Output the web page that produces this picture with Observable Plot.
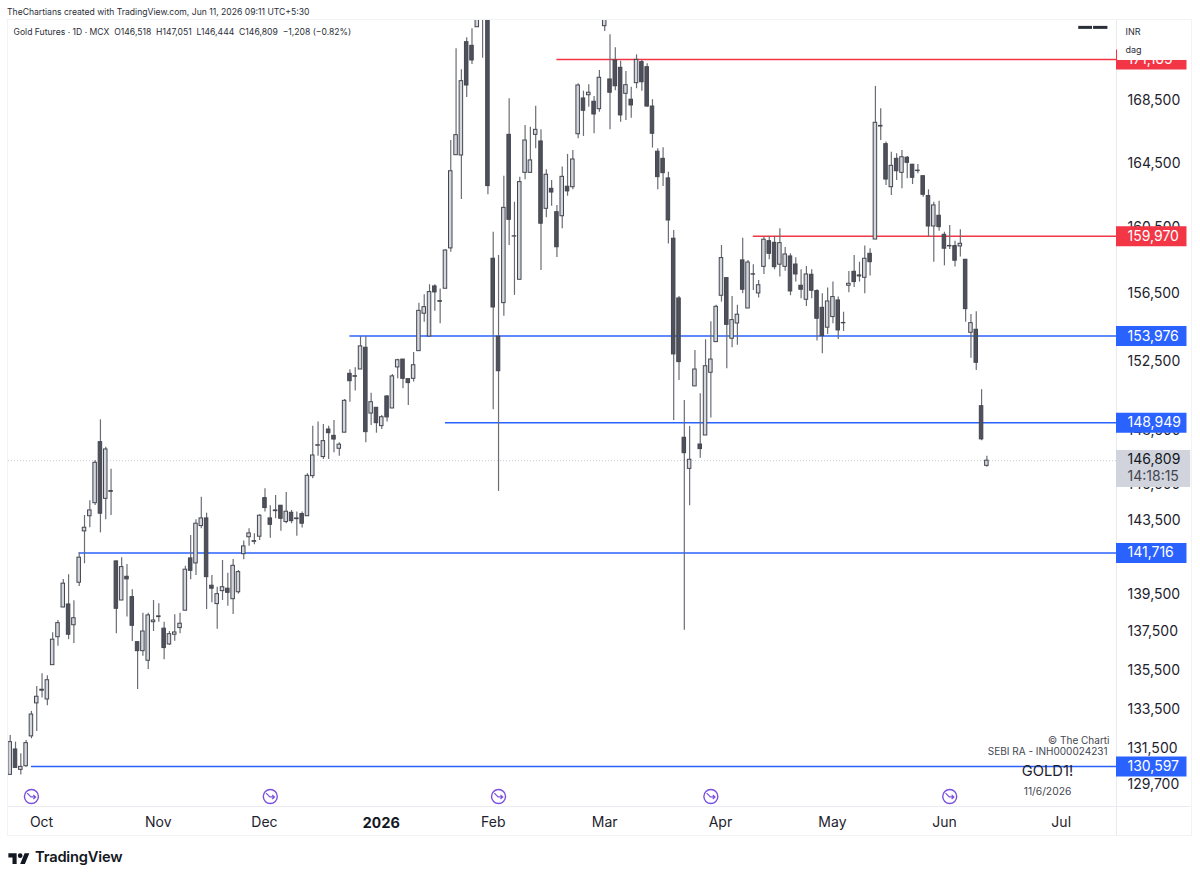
<!DOCTYPE html>
<html>
<head>
<meta charset="utf-8">
<script src="https://cdn.jsdelivr.net/npm/d3@7"></script>
<script src="https://cdn.jsdelivr.net/npm/@observablehq/plot@0.6"></script>
<style>
  html, body { margin: 0; padding: 0; background: #fff; font-family: Inter, "Noto Sans", sans-serif; color: #131722; }
  #page { position: relative; width: 1200px; height: 880px; overflow: hidden; }
  #credit { height: 19px; box-sizing: border-box; padding: 6px 0 0 7px; font-size: 8.6px; line-height: 12px; color: #2a2e39; white-space: nowrap; }
  #chart svg { display: block; background: transparent; }
  #border { position: absolute; left: 7px; top: 19px; width: 1185px; height: 817px; box-sizing: border-box; border: 1px solid #f2f3f5; pointer-events: none; }
  #logo { position: absolute; left: 8px; top: 848px; display: flex; align-items: center; gap: 5px; font-size: 14.7px; font-weight: 600; letter-spacing: -0.2px; color: #131722; }
</style>
</head>
<body>
<div id="page">
  <div id="credit">TheChartians created with TradingView.com, Jun 11, 2026 09:11 UTC+5:30</div>
  <div id="chart"></div>
  <div id="border"></div>
  <div id="logo"><svg width="22" height="13" viewBox="0 0 36 22"><path fill="#131722" d="M14 22H7V11H0V4h14v18zM28 22h-8l7.5-18h8L28 22z"/><circle fill="#131722" cx="20" cy="8" r="4"/></svg><span>TradingView</span></div>
</div>
<script>
const opens = [
130180,131450,130430,130610,132110,133790,134440,133990,135760,137220,
138790,138950,137850,140110,142890,143720,144440,147850,144680,145110,
141260,139160,140430,139340,136960,136490,135990,138010,138280,137670,
136840,137350,137700,138620,141420,141150,143180,143600,139950,138970,
139660,139790,139230,139600,141650,142570,142320,142600,144720,143600,
144040,144300,143400,143910,143600,143840,143720,145940,147650,147010,
148570,148210,147480,148390,151770,151630,152020,153290,149480,149810,
148760,150460,149770,152140,152600,151460,151480,153090,155300,153950,
156930,156050,156790,159230,165010,164990,172300,172060,173290,174200,
178000,158600,153940,155930,166300,159950,157330,163900,163900,166300,
165880,161660,162900,161450,161200,163030,163000,166340,168630,168840,
168420,167940,173360,169860,171100,170620,168930,168550,169620,170990,
170660,168110,165230,164780,163550,159820,156210,148100,146350,151040,
147720,148230,151830,153620,156370,157430,153820,154720,158500,155610,
157660,156510,158110,159670,159570,158240,158110,158740,158250,156970,
156130,157630,156650,155650,154470,155100,156090,154750,156970,157810,
157590,157450,158900,159770,166870,165710,163000,164780,163900,164850,
164410,164040,163690,162450,160570,161230,160060,159380,159370,159350,
158540,154170,154350,149900,146518];
const highs = [
132160,131820,131240,131900,133380,134660,135310,135210,137450,138100,
140290,140540,139150,141730,143760,144570,146820,149120,147570,146330,
141260,141460,141090,139730,136960,138490,138490,139160,138990,138010,
137520,138400,138490,141000,142670,143530,144770,143890,140500,139870,
141310,140620,141360,140770,142360,143030,142760,143800,145240,144300,
144870,144300,145030,144040,143950,143950,146080,148760,148990,148860,
148760,149080,147820,150290,152010,152120,153950,153950,150650,149810,
149370,150520,151730,152620,152600,151460,153010,155930,156430,157030,
157030,156770,159150,165940,171870,170490,172590,173190,175200,179500,
179000,160220,158800,163690,168610,162070,163630,166900,166790,168130,
166620,164090,163420,161870,164260,165060,165310,169580,169100,169520,
168760,170450,174100,172790,171930,171050,170380,169360,171470,171100,
170880,168550,165420,165480,163940,160330,156330,150230,148740,153130,
150620,153760,154820,155810,159410,157430,156330,155810,159850,158500,
158240,157290,159920,159960,159960,160430,159280,158900,158660,157930,
158130,157930,156730,156490,156830,157190,156290,155390,157830,158800,
158390,159370,159210,169410,167970,165840,165200,165100,165310,164930,
164410,164420,163690,162840,162070,162130,160220,160630,159670,160370,
158540,155260,155420,150850,147051];
const lows = [
130180,130500,130170,130560,131990,132360,134060,133670,135760,136740,
138780,137090,136890,139910,141130,143090,144310,142810,143530,143760,
137400,139160,138280,137000,134500,136230,135540,137520,138010,136040,
136790,137010,137400,138620,140270,140500,143030,138680,139040,137640,
139160,138860,138420,139500,141350,142080,142160,142390,143950,142520,
143580,142900,143310,143310,142630,143070,143720,145800,147060,146880,
146880,147250,147060,148390,150130,150770,152020,147820,148800,148360,
148570,148990,149770,151480,150900,149940,151290,153090,154800,153950,
155450,154700,156790,159000,165010,162240,168690,170840,173290,171250,
162530,149700,145090,155150,159410,156390,157330,163470,163900,165420,
157890,161110,161820,158680,160430,162440,162840,166050,166200,168070,
166370,167750,173010,166620,169130,167110,167220,167360,169260,169100,
168070,165460,162840,163050,159490,149080,151380,137580,144300,151040,
146950,148230,149220,153620,155990,152060,153290,153430,156490,155610,
156690,156230,157650,158540,157930,157490,157850,156370,157190,156190,
155730,156190,153680,152940,154070,154700,153780,154250,156550,156870,
157190,156490,157550,159770,165940,163110,162490,163420,162900,163530,
163170,163840,162380,159920,158390,160280,158170,159160,158100,158700,
154800,152680,151960,147930,146444];
const closes = [
131820,130530,130580,131770,133220,134130,134490,134980,137090,137960,
140060,137350,138220,141460,143090,144040,146690,143860,147440,145070,
138720,140950,140290,137820,136490,137520,138370,138100,138320,136650,
137380,137470,137930,140810,140750,143310,143600,140410,139790,139500,
139870,139570,141020,140680,142070,142780,142360,143750,144170,143250,
144000,143580,143970,143450,143560,143310,145960,147100,147680,147910,
148360,148000,147710,150210,151340,151600,153370,148420,150130,148930,
149270,149260,151620,152560,151480,151230,152270,155470,155690,156590,
156570,156010,159100,164000,166280,169750,169470,171100,174600,178500,
163070,155670,151920,161720,160980,159970,163320,165940,164680,166620,
160740,163780,162670,159300,163650,162740,164740,169470,167840,169000,
167600,169970,173900,169000,169420,167540,169490,168180,171140,169680,
168110,166370,163630,163880,160940,152900,152450,147230,146860,152020,
147460,152210,152600,155710,158640,154640,154920,155240,156730,158370,
157640,157000,159760,158900,158090,159550,158860,156630,157650,156730,
157650,156670,155000,153970,156030,156290,154310,154730,157090,157190,
157530,158600,158390,167070,166830,163480,164340,164000,164880,164530,
163590,164010,162530,160570,161870,160530,159210,159350,158480,159510,
155570,154740,152410,148010,146809];

// Horizontal levels: price, first bar, colour
const levelPrices = [171165, 159970, 153976, 148949, 141716, 130597];
const levelStarts = [103, 140, 64, 82, 13, 4];
const levelColors = ["#f23645", "#f23645", "#2962ff", "#2962ff", "#2962ff", "#2962ff"];

const priceTicks = [168500, 164500, 160500, 156500, 152500, 148500, 145500, 143500, 139500, 137500, 135500, 133500, 131500, 129700];
const monthBars = [5.9, 27.9, 47.9, 91, 112, 133.8, 154.9, 176, 198];
const monthNames = ["Oct", "Nov", "Dec", "Feb", "Mar", "Apr", "May", "Jun", "Jul"];
const yearBar = [69.9];
const rolloverBars = [4, 49, 92, 132, 177];

const lastPrice = 146809;
const countdown = "14:18:15";

const XMIN = -0.32, XMAX = 208.42;
const TAG_END = 221.7, GREY_END = 222.4;

const bars = opens.map((o, i) => ({i, o, h: highs[i], l: lows[i], c: closes[i]}));
const levels = levelPrices.map((p, k) => ({p, start: levelStarts[k], color: levelColors[k]}));
const fmt = d3.format(",");

const rolloverArrow = {
  draw(ctx, size) {
    const r = Math.sqrt(size / Math.PI);
    ctx.moveTo(-r, -r * 0.8);
    ctx.lineTo(-r * 0.1, r * 0.1);
    ctx.lineTo(r, r * 0.1);
    ctx.moveTo(r * 0.45, -r * 0.4);
    ctx.lineTo(r, r * 0.1);
    ctx.lineTo(r * 0.45, r * 0.6);
  }
};

const chart = Plot.plot({
  width: 1200, height: 821,
  marginTop: 0, marginBottom: 34, marginLeft: 8, marginRight: 84,
  style: {fontFamily: "Inter, 'Noto Sans', sans-serif", background: "transparent", color: "#131722"},
  x: {type: "linear", domain: [XMIN, XMAX]},
  y: {type: "log", domain: [128614, 173803]},
  marks: [
    Plot.ruleX([XMAX], {stroke: "#e9ebf0", strokeWidth: 1, y1: 127146, y2: 173803}),
    Plot.ruleY([128614], {x1: XMIN, x2: GREY_END, stroke: "#e9ebf0", strokeWidth: 1}),
    Plot.axisY({anchor: "right", ticks: priceTicks, tickSize: 0, tickPadding: 11, tickFormat: fmt, label: null, fontSize: 14, fontVariant: "normal", fill: "#1e222d"}),
    Plot.axisX({anchor: "bottom", ticks: monthBars, tickSize: 0, tickPadding: 11, label: null, fontSize: 14, fill: "#1e222d",
      tickFormat: d => monthNames[monthBars.indexOf(d)]}),
    Plot.axisX({anchor: "bottom", ticks: yearBar, tickSize: 0, tickPadding: 11, label: null, fontSize: 14.5, fontWeight: 700, fill: "#131722",
      tickFormat: () => "2026"}),

    // last price dotted line
    Plot.ruleY([lastPrice], {x1: XMIN, x2: XMAX, stroke: "#c9ccd4", strokeWidth: 1, strokeDasharray: "1,2"}),

    // levels
    Plot.ruleY(levels, {y: "p", x1: "start", x2: XMAX, stroke: "color", strokeWidth: 1.5}),

    // candles
    Plot.ruleX(bars, {x: "i", y1: "l", y2: "h", stroke: "#6b6d75", strokeWidth: 1.2, clip: "frame"}),
    Plot.rect(bars, {
      x1: d => d.i - 0.33, x2: d => d.i + 0.33, y1: "o", y2: "c",
      fill: d => d.c >= d.o ? "#d4d6dd" : "#4e505b",
      stroke: "#44464f",
      strokeWidth: 1, clip: "frame"
    }),

    // rollover markers
    Plot.dot(rolloverBars, {x: d => d, frameAnchor: "bottom", dy: -10, r: 7, fill: "none", stroke: "#7a4fe0", strokeWidth: 1.4}),
    Plot.dot(rolloverBars, {x: d => d, frameAnchor: "bottom", dy: -10, r: 4.2, symbol: rolloverArrow, fill: "none", stroke: "#7a4fe0", strokeWidth: 1.2}),

    // watermark
    Plot.text(["© The Charti"], {frameAnchor: "bottom-right", dx: -7, dy: -63, textAnchor: "end", fontSize: 10, fill: "#434651"}),
    Plot.text(["SEBI RA - INH000024231"], {frameAnchor: "bottom-right", dx: -9, dy: -52, textAnchor: "end", fontSize: 10, fill: "#434651"}),
    Plot.text(["GOLD1!"], {frameAnchor: "bottom-right", dx: -69, dy: -31, textAnchor: "middle", fontSize: 14.7, fill: "#1e222d"}),
    Plot.text(["11/6/2026"], {frameAnchor: "bottom-right", dx: -69, dy: -12, textAnchor: "middle", fontSize: 10.3, fill: "#434651"}),

    // top-right dashes
    Plot.ruleY([[201.3, 203.9], [204.1, 206.8]], {x1: d => d[0], x2: d => d[1], y: 173280, stroke: "#2a2e39", strokeWidth: 3}),

    // legend
    Plot.text(["Gold Futures · 1D · MCX  O146,518  H147,051  L146,444  C146,809  −1,208 (−0.82%)"], {
      frameAnchor: "top-left", dx: 5, dy: 9, textAnchor: "start", fontSize: 8.6, fill: "#2a2e39"}),

    // price tags
    Plot.ruleY(levels, {y: "p", x1: XMAX, x2: TAG_END, stroke: "color", strokeWidth: 20}),
    Plot.text(levels, {y: "p", x: XMAX, dx: 11, textAnchor: "start", text: d => fmt(d.p), fill: "white", fontSize: 14}),
    Plot.rect([lastPrice], {x1: XMAX, x2: GREY_END, y1: 147383, y2: 145311, fill: "#d1d4dc"}),
    Plot.text([lastPrice], {x: XMAX, y: lastPrice, dx: 11, dy: -1, textAnchor: "start", text: d => fmt(d), fill: "#131722", fontSize: 14}),
    Plot.text([countdown], {x: XMAX, y: lastPrice, dx: 11, dy: 16, textAnchor: "start", fill: "#434651", fontSize: 14}),

    // currency / unit box over the top tag
    Plot.rect([0], {x1: XMAX + 0.2, x2: GREY_END, y1: 173803, y2: 171100, fill: "white"}),
    Plot.text(["INR"], {frameAnchor: "top-right", dx: 9, dy: 9, textAnchor: "start", fontSize: 9, fill: "#2a2e39"}),
    Plot.text(["dag"], {frameAnchor: "top-right", dx: 9, dy: 27, textAnchor: "start", fontSize: 9, fill: "#2a2e39"})
  ]
});
document.getElementById("chart").appendChild(chart);
</script>
</body>
</html>
